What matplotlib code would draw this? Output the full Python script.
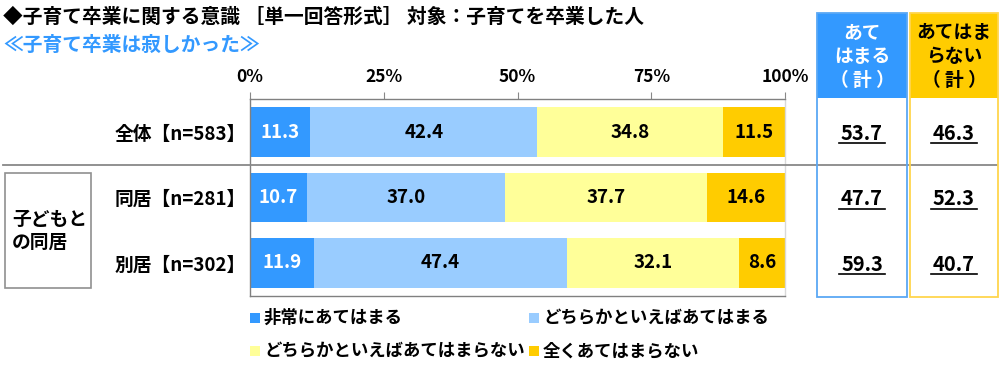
import numpy
from matplotlib import pyplot
from matplotlib.patches import Rectangle
from matplotlib.lines import Line2D
from matplotlib.transforms import blended_transform_factory

pyplot.rcParams["font.family"] = ["Noto Sans CJK JP", "DejaVu Sans"]
pyplot.rcParams["font.weight"] = "bold"

TITLE = "◆子育て卒業に関する意識 ［単一回答形式］ 対象：子育てを卒業した人"
SUBTITLE = "≪子育て卒業は寂しかった≫"
ROW_LABELS = ["全体【n=583】", "同居【n=281】", "別居【n=302】"]
GROUP_LABEL = "子どもと\nの同居"
SERIES_NAMES = ["非常にあてはまる", "どちらかといえばあてはまる",
                "どちらかといえばあてはまらない", "全くあてはまらない"]
SERIES_COLORS = ["#3399FF", "#99CCFF", "#FFFF99", "#FFCC00"]
VALUE_COLORS = ["white", "black", "black", "black"]
VERY = [11.3, 10.7, 11.9]
SOMEWHAT = [42.4, 37.0, 47.4]
SOMEWHAT_NOT = [34.8, 37.7, 32.1]
NOT_AT_ALL = [11.5, 14.6, 8.6]
AGREE_TOTAL = [53.7, 47.7, 59.3]
DISAGREE_TOTAL = [46.3, 52.3, 40.7]
AGREE_HEADER = ["あて", "はまる", "（ 計 ）"]
DISAGREE_HEADER = ["あてはま", "らない", "（ 計 ）"]
X_TICKS = [0, 25, 50, 75, 100]

W, H = 1000, 371


def fx(x):
    return x / W


def fy(y):
    return 1 - y / H


fig = pyplot.figure(figsize=(W / 100, H / 100), dpi=100)
ax = fig.add_axes([fx(250), fy(296), fx(785) - fx(250), fy(99) - fy(296)])

series = [VERY, SOMEWHAT, SOMEWHAT_NOT, NOT_AT_ALL]
rows = numpy.arange(len(ROW_LABELS))
left = numpy.zeros(len(ROW_LABELS))
for values, color, tcolor in zip(series, SERIES_COLORS, VALUE_COLORS):
    values = numpy.array(values)
    ax.barh(rows, values, left=left, height=0.763, color=color, edgecolor="none", zorder=2)
    for r, v, l in zip(rows, values, left):
        ax.text(l + v / 2, r, f"{v:.1f}", ha="center", va="center",
                fontsize=13.5, color=tcolor, fontweight="bold", zorder=3)
    left += values

ax.set_xlim(0, 100)
ax.set_ylim(2.504, -0.504)
ax.xaxis.tick_top()
ax.set_xticks(X_TICKS, [f"{t}%" for t in X_TICKS])
ax.tick_params(axis="x", length=5, width=0.8, color="#888888", pad=4, labelsize=12.5)
ax.set_yticks(rows, ROW_LABELS)
ax.tick_params(axis="y", length=0, pad=3, labelsize=13.5)
for lab in ax.get_xticklabels() + ax.get_yticklabels():
    lab.set_fontweight("bold")
for side in ["top", "left", "bottom"]:
    ax.spines[side].set_color("#808080")
    ax.spines[side].set_linewidth(1.0)
ax.spines["right"].set_color("#d9d9d9")
ax.spines["right"].set_linewidth(1.0)

# titles
fig.text(fx(3), fy(17), TITLE, ha="left", va="center", fontsize=14.2, fontweight="bold")
fig.text(fx(3), fy(45), SUBTITLE, ha="left", va="center", fontsize=14.2,
         fontweight="bold", color="#3399FF")

# separator between total and group rows
fig.add_artist(Line2D([fx(3), fx(997)], [fy(165), fy(165)], color="#888888", linewidth=1.3, zorder=5))

# group label box
fig.add_artist(Rectangle((fx(5), fy(288)), fx(91) - fx(5), fy(173) - fy(288),
                         facecolor="white", edgecolor="#909090", linewidth=1.2))
fig.text(fx(12), fy(231), GROUP_LABEL, ha="left", va="center", fontsize=13.5,
         fontweight="bold", linespacing=1.3)

# legend
legend_pos = [(243, 318), (522, 318), (243, 351), (522, 351)]
for (lx, ly), name, color in zip(legend_pos, SERIES_NAMES, SERIES_COLORS):
    fig.add_artist(Rectangle((fx(lx + 7), fy(ly + 5)), fx(10), fy(0) - fy(10),
                             facecolor=color, edgecolor="none"))
    fig.text(fx(lx + 21), fy(ly), name, ha="left", va="center", fontsize=12.5, fontweight="bold")

# summary columns
trans = blended_transform_factory(fig.transFigure, ax.transData)
columns = [
    (817, 907, "#3399FF", "#5aa8f5", "white", AGREE_HEADER, AGREE_TOTAL),
    (910, 998, "#FFCC00", "#ffd54d", "black", DISAGREE_HEADER, DISAGREE_TOTAL),
]
for x0, x1, fill, edge, hcolor, header, totals in columns:
    fig.add_artist(Rectangle((fx(x0), fy(98)), fx(x1) - fx(x0), fy(13) - fy(98),
                             facecolor=fill, edgecolor="none", zorder=1))
    fig.add_artist(Rectangle((fx(x0), fy(297)), fx(x1) - fx(x0), fy(13) - fy(297),
                             facecolor="none", edgecolor=edge, linewidth=1.3, zorder=6))
    cx = (x0 + x1) / 2
    for i, line in enumerate(header):
        fig.text(fx(cx), fy(33 + 24 * i), line, ha="center", va="center",
                 fontsize=13.5, fontweight="bold", color=hcolor, zorder=7)
    for r, v in zip(rows, totals):
        ax.text(fx(cx), r + 0.02, f"{v:.1f}", transform=trans, ha="center", va="center",
                fontsize=14.5, fontweight="bold", clip_on=False)
        ax.plot([fx(cx - 23), fx(cx + 23)], [r + 0.17, r + 0.17], transform=trans,
                color="black", linewidth=1.2, clip_on=False)

fig.savefig("out.png", dpi=100)
